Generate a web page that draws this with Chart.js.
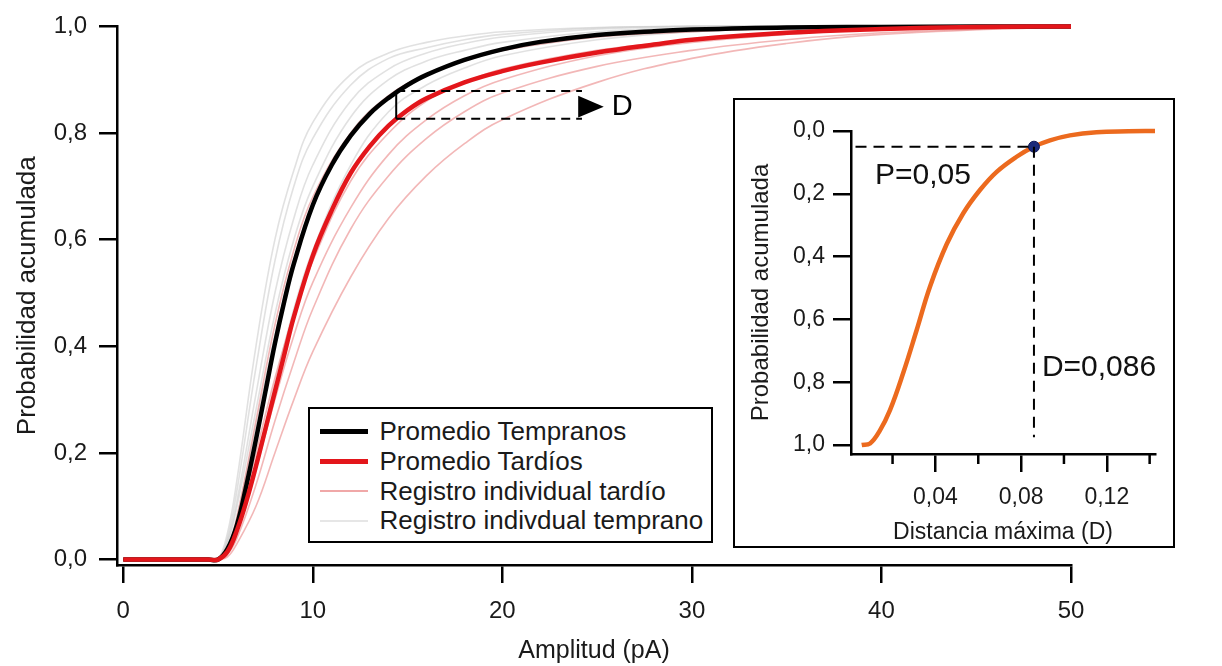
<!DOCTYPE html>
<html lang="es">
<head>
<meta charset="utf-8">
<title>Probabilidad acumulada</title>
<script src="https://cdn.jsdelivr.net/npm/chart.js@4.4.0/dist/chart.umd.min.js"></script>
<style>
  body { margin: 0; background: #fff; }
  #wrap { position: relative; width: 1222px; height: 666px; font-family: "Liberation Sans", Arial, sans-serif; color: #1a1a1a; }
  #main { position: absolute; left: 0; top: 0; }
  #legend { position: absolute; left: 308px; top: 407px; width: 405px; height: 136px; box-sizing: border-box;
            border: 2.5px solid #000; background: #fff; padding-top: 8px; }
  .row { height: 29.7px; display: flex; align-items: center; font-size: 26px; white-space: nowrap; }
  .swatch { width: 48px; margin-left: 9.5px; margin-right: 12px; }
  #inset { position: absolute; left: 733px; top: 98px; width: 442px; height: 450px; box-sizing: border-box;
           border: 2px solid #000; background: #fff; }
  #inset canvas { display: block; }
</style>
</head>
<body>
<div id="wrap">
  <canvas id="main" width="1222" height="666"></canvas>
  <div id="legend">
    <div class="row"><span class="swatch" style="height:5px;background:#000"></span>Promedio Tempranos</div>
    <div class="row"><span class="swatch" style="height:5px;background:#e3161b"></span>Promedio Tardíos</div>
    <div class="row"><span class="swatch" style="height:2px;background:#f0a8a8"></span>Registro individual tardío</div>
    <div class="row"><span class="swatch" style="height:2px;background:#e6e6e6"></span>Registro indivdual temprano</div>
  </div>
  <div id="inset"><canvas id="insetChart" width="438" height="446"></canvas></div>
</div>

<script>
// Main chart: cumulative probability vs amplitude (pA)
const xTicks = [0, 10, 20, 30, 40, 50];
const yTicks = [0, 0.2, 0.4, 0.6, 0.8, 1.0];

// averages
const xAvg = [0, 4.5, 5, 5.5, 6, 6.5, 7, 7.5, 8, 8.5, 9, 10, 11, 12, 13, 14, 15, 16, 18, 20, 22, 25, 28, 30, 35, 40, 45, 50];
const promedioTempranos = [0, 0, 0, 0.02, 0.065, 0.14, 0.225, 0.315, 0.405, 0.485, 0.555, 0.665, 0.74, 0.795, 0.836, 0.866, 0.89, 0.909, 0.937, 0.957, 0.971, 0.984, 0.991, 0.994, 0.998, 0.999, 1.0, 1.0];
const promedioTardios = [0, 0, 0, 0.015, 0.055, 0.11, 0.175, 0.245, 0.315, 0.385, 0.455, 0.57, 0.655, 0.725, 0.775, 0.814, 0.843, 0.865, 0.895, 0.916, 0.932, 0.951, 0.966, 0.975, 0.988, 0.995, 0.999, 1.0];

// individual records
const xIndiv = [0, 4.5, 5, 5.5, 6, 7, 8, 9, 10, 12, 14, 16, 18, 20, 25, 30, 35, 40, 50];
const tardio1 = [0, 0, 0, 0.005, 0.03, 0.1, 0.2, 0.3, 0.39, 0.53, 0.64, 0.72, 0.78, 0.825, 0.895, 0.94, 0.968, 0.985, 1.0];
const tardio2 = [0, 0, 0, 0.01, 0.04, 0.14, 0.26, 0.37, 0.47, 0.62, 0.72, 0.79, 0.84, 0.875, 0.925, 0.955, 0.975, 0.988, 1.0];
const tardio3 = [0, 0, 0, 0.015, 0.06, 0.2, 0.34, 0.46, 0.56, 0.71, 0.8, 0.86, 0.895, 0.92, 0.955, 0.975, 0.99, 0.997, 1.0];
const tardio4 = [0, 0, 0, 0.02, 0.08, 0.26, 0.44, 0.58, 0.68, 0.8, 0.87, 0.91, 0.935, 0.955, 0.98, 0.99, 0.997, 1.0, 1.0];
const tardio5 = [0, 0, 0, 0.01, 0.05, 0.17, 0.3, 0.42, 0.52, 0.66, 0.76, 0.825, 0.87, 0.9, 0.945, 0.97, 0.985, 0.995, 1.0];
const temprano1 = [0, 0, 0, 0.05, 0.15, 0.4, 0.6, 0.73, 0.82, 0.91, 0.95, 0.97, 0.982, 0.99, 0.998, 1, 1, 1, 1];
const temprano2 = [0, 0, 0, 0.035, 0.11, 0.31, 0.5, 0.64, 0.74, 0.86, 0.92, 0.95, 0.968, 0.98, 0.995, 1, 1, 1, 1];
const temprano3 = [0, 0, 0, 0.025, 0.08, 0.25, 0.42, 0.56, 0.66, 0.8, 0.87, 0.91, 0.938, 0.955, 0.98, 0.99, 0.997, 1, 1];
const temprano4 = [0, 0, 0, 0.02, 0.06, 0.18, 0.33, 0.47, 0.58, 0.74, 0.84, 0.89, 0.922, 0.945, 0.975, 0.99, 0.996, 1, 1];
const temprano5 = [0, 0, 0, 0.04, 0.13, 0.36, 0.56, 0.7, 0.79, 0.89, 0.94, 0.96, 0.975, 0.985, 0.997, 1, 1, 1, 1];
const temprano6 = [0, 0, 0, 0.03, 0.1, 0.28, 0.46, 0.6, 0.7, 0.83, 0.9, 0.935, 0.955, 0.97, 0.99, 0.997, 1, 1, 1];

// "D" bracket annotation (data units)
const bracketX = [14.4, 24.2];      // start, end of dashed lines
const bracketY = [0.879, 0.827];    // black, red at bracketX[0]
const arrowX = [24.0, 25.35];       // base, tip
const arrowY = [0.870, 0.829];

// Inset: distribution of maximum distance D
const insetXTicks = [0.04, 0.08, 0.12];
const insetXMinor = [0.02, 0.06, 0.10, 0.14];
const insetYTicks = [0, 0.2, 0.4, 0.6, 0.8, 1.0];
const distanciaD = [0.0056, 0.0095, 0.014, 0.0188, 0.025, 0.0313, 0.0375, 0.0453, 0.053, 0.0608, 0.0686, 0.0779, 0.0857, 0.0935, 0.1028, 0.1152, 0.13, 0.1425];
const probD = [1.0, 0.995, 0.955, 0.889, 0.77, 0.633, 0.495, 0.36, 0.262, 0.188, 0.13, 0.082, 0.051, 0.03, 0.014, 0.004, 0.001, 0.0];
const criticoD = [0.086];
const criticoP = [0.05];

const FONT = '"Liberation Sans", Arial, sans-serif';
Chart.defaults.font.family = FONT;
Chart.defaults.color = '#1a1a1a';

function pts(xs, ys) {
  return xs.map((x, i) => ({ x: x, y: ys[i] }));
}

function lineSet(label, xs, ys, color, width, order) {
  return {
    label: label,
    data: pts(xs, ys),
    borderColor: color,
    borderWidth: width,
    pointRadius: 0,
    tension: 0.4,
    clip: false,
    order: order
  };
}

function fmt(digits) {
  return v => Number(v).toFixed(digits).replace('.', ',');
}

const PINK = 'rgba(228,105,105,0.48)';
const GRAY = 'rgba(205,205,205,0.6)';

const datasets = [
  lineSet('Promedio Tardíos', xAvg, promedioTardios, '#e3161b', 4.5, 0),
  lineSet('Promedio Tempranos', xAvg, promedioTempranos, '#000', 4.5, 1)
];
[tardio1, tardio2, tardio3, tardio4, tardio5].forEach((ys, i) => {
  datasets.push(lineSet('Registro individual tardío ' + (i + 1), xIndiv, ys, PINK, 1.6, 2));
});
[temprano1, temprano2, temprano3, temprano4, temprano5, temprano6].forEach((ys, i) => {
  datasets.push(lineSet('Registro indivdual temprano ' + (i + 1), xIndiv, ys, GRAY, 1.6, 3));
});

// draws the dashed bracket, arrow and the "D" label
const bracketPlugin = {
  id: 'bracket',
  afterDatasetsDraw(chart) {
    const { ctx, scales: { x, y } } = chart;
    const x0 = x.getPixelForValue(bracketX[0]), x1 = x.getPixelForValue(bracketX[1]);
    const yTop = y.getPixelForValue(bracketY[0]), yBot = y.getPixelForValue(bracketY[1]);
    ctx.save();
    ctx.strokeStyle = '#000';
    ctx.lineWidth = 2;
    ctx.beginPath();
    ctx.moveTo(x0, yTop); ctx.lineTo(x0, yBot);
    ctx.stroke();
    ctx.setLineDash([9, 6]);
    ctx.beginPath();
    ctx.moveTo(x0, yTop); ctx.lineTo(x1, yTop);
    ctx.moveTo(x0, yBot); ctx.lineTo(x1, yBot);
    ctx.stroke();
    // arrow head
    const ax0 = x.getPixelForValue(arrowX[0]), ax1 = x.getPixelForValue(arrowX[1]);
    const ay0 = y.getPixelForValue(arrowY[0]), ay1 = y.getPixelForValue(arrowY[1]);
    ctx.fillStyle = '#000';
    ctx.beginPath();
    ctx.moveTo(ax0, ay0); ctx.lineTo(ax1, (ay0 + ay1) / 2); ctx.lineTo(ax0, ay1);
    ctx.closePath();
    ctx.fill();
    ctx.font = '29px ' + FONT;
    ctx.textBaseline = 'middle';
    ctx.fillText('D', ax1 + 8, (ay0 + ay1) / 2);
    ctx.restore();
  }
};

new Chart(document.getElementById('main'), {
  type: 'line',
  data: { datasets: datasets },
  options: {
    responsive: false,
    animation: false,
    layout: { padding: { left: 0, right: 151, top: 20, bottom: 0 } },
    plugins: { legend: { display: false }, tooltip: { enabled: false } },
    scales: {
      x: {
        type: 'linear',
        min: -0.33,
        max: 50,
        afterBuildTicks: s => { s.ticks = xTicks.map(v => ({ value: v })); },
        afterFit: s => { s.height = 101; },
        grid: { drawOnChartArea: false, tickLength: 18, color: '#000', lineWidth: 2.5, tickWidth: 2.5 },
        border: { display: true, color: '#000', width: 2.5 },
        ticks: { font: { size: 24 }, padding: 14, maxRotation: 0, autoSkip: false },
        title: { display: true, text: 'Amplitud (pA)', font: { size: 25 }, padding: { top: 0, bottom: 0 } }
      },
      y: {
        type: 'linear',
        min: -0.0102,
        max: 1,
        afterBuildTicks: s => { s.ticks = yTicks.map(v => ({ value: v })); },
        afterFit: s => { s.width = 117; },
        grid: { drawOnChartArea: false, tickLength: 18, color: '#000', lineWidth: 2.5, tickWidth: 2.5 },
        border: { display: true, color: '#000', width: 2.5 },
        ticks: { font: { size: 24 }, padding: 12, callback: fmt(1), autoSkip: false },
        title: { display: true, text: 'Probabilidad acumulada', font: { size: 26 }, padding: { top: 12, bottom: 0 } }
      }
    }
  },
  plugins: [bracketPlugin]
});

// inset: minor ticks, dashed guides and text labels
const insetPlugin = {
  id: 'insetGuides',
  afterDatasetsDraw(chart) {
    const { ctx, scales: { x, y } } = chart;
    const cx = x.getPixelForValue(criticoD[0]);
    const cy = y.getPixelForValue(criticoP[0]);
    ctx.save();
    ctx.strokeStyle = '#000';
    ctx.lineWidth = 2;
    ctx.setLineDash([11, 7]);
    ctx.beginPath();
    ctx.moveTo(x.getPixelForValue(0.0027), cy); ctx.lineTo(cx, cy);
    ctx.moveTo(cx, cy); ctx.lineTo(cx, y.getPixelForValue(0.975));
    ctx.stroke();
    ctx.setLineDash([]);
    // minor ticks
    ctx.lineWidth = 2.5;
    ctx.beginPath();
    insetXMinor.forEach(v => {
      const px = x.getPixelForValue(v);
      ctx.moveTo(px, chart.chartArea.bottom); ctx.lineTo(px, chart.chartArea.bottom + 10);
    });
    ctx.stroke();
    ctx.fillStyle = '#111';
    ctx.font = '30px ' + FONT;
    ctx.textBaseline = 'middle';
    ctx.fillText('P=0,05', x.getPixelForValue(0.0118), y.getPixelForValue(0.141));
    ctx.fillText('D=0,086', x.getPixelForValue(0.0897), y.getPixelForValue(0.755));
    ctx.restore();
  }
};

new Chart(document.getElementById('insetChart'), {
  type: 'line',
  data: {
    datasets: [
      {
        label: 'Punto crítico',
        data: pts(criticoD, criticoP),
        showLine: false,
        pointRadius: 5.5,
        pointBackgroundColor: '#1b2a7a',
        pointBorderColor: '#101a5a',
        pointBorderWidth: 1,
        clip: false,
        order: 0
      },
      {
        label: 'Distancia máxima',
        data: pts(distanciaD, probD),
        borderColor: '#ec6a1e',
        borderWidth: 4.5,
        pointRadius: 0,
        tension: 0.4,
        clip: false,
        order: 1
      }
    ]
  },
  options: {
    responsive: false,
    animation: false,
    layout: { padding: { left: 0, right: 18, top: 31, bottom: 0 } },
    plugins: { legend: { display: false }, tooltip: { enabled: false } },
    scales: {
      x: {
        type: 'linear',
        min: 0.0006,
        max: 0.1425,
        afterBuildTicks: s => { s.ticks = insetXTicks.map(v => ({ value: v })); },
        afterFit: s => { s.height = 92; },
        grid: { drawOnChartArea: false, tickLength: 18, color: '#000', lineWidth: 2.5, tickWidth: 2.5 },
        border: { display: true, color: '#000', width: 2.5 },
        ticks: { font: { size: 23 }, padding: 12, callback: fmt(2), maxRotation: 0, autoSkip: false },
        title: { display: true, text: 'Distancia máxima (D)', font: { size: 23 }, padding: { top: 0, bottom: 0 } }
      },
      y: {
        type: 'linear',
        reverse: true,
        min: 0,
        max: 1.0286,
        afterBuildTicks: s => { s.ticks = insetYTicks.map(v => ({ value: v })); },
        afterFit: s => { s.width = 116; },
        grid: { drawOnChartArea: false, tickLength: 18, color: '#000', lineWidth: 2.5, tickWidth: 2.5 },
        border: { display: true, color: '#000', width: 2.5 },
        ticks: { font: { size: 23 }, padding: 8, callback: fmt(1), autoSkip: false },
        title: { display: true, text: 'Probabilidad acumulada', font: { size: 24 }, padding: { top: 12, bottom: 0 } }
      }
    }
  },
  plugins: [insetPlugin]
});
</script>
</body>
</html>
